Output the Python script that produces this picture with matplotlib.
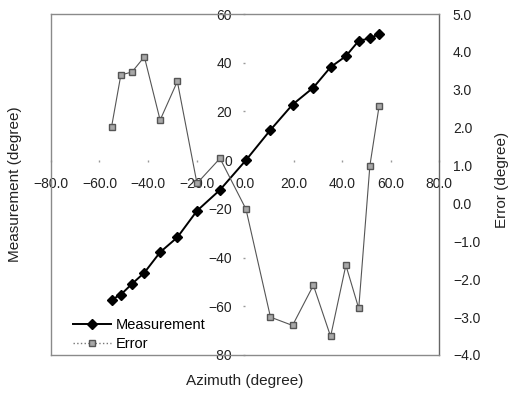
import matplotlib
matplotlib.use("Agg")
import matplotlib.pyplot as plt
from matplotlib.lines import Line2D

plt.rcParams['font.family'] = ['Liberation Sans', 'DejaVu Sans']

azimuth = [-55.0, -51.2, -46.6, -41.5, -35.0, -27.9, -19.8, -10.3, 0.4,
           10.5, 19.6, 28.2, 35.3, 41.6, 46.9, 51.5, 55.3]
measurement = [-57.3, -55.2, -50.8, -46.2, -37.8, -31.7, -20.8, -12.2, 0.0,
               12.4, 22.8, 29.8, 38.2, 42.7, 49.0, 50.0, 51.8]
error = [2.03, 3.39, 3.47, 3.87, 2.20, 3.22, 0.53, 1.19, -0.15,
         -3.00, -3.22, -2.16, -3.51, -1.63, -2.77, 1.00, 2.57]

x_ticks = [-80, -60, -40, -20, 0, 20, 40, 60, 80]
y_ticks = [-80, -60, -40, -20, 0, 20, 40, 60]
e_ticks = [-4, -3, -2, -1, 0, 1, 2, 3, 4, 5]

fig = plt.figure(figsize=(5.08, 3.93), dpi=100)
ax = fig.add_axes([51/508, 1 - 355/393, 388/508, 341/393])
ax2 = ax.twinx()

frame_color = '#8a8a8a'
# main axes: axes cross at zero
ax.set_xlim(-80, 80)
ax.set_ylim(-80, 60)
ax.spines['left'].set_position(('data', 0))
ax.spines['bottom'].set_position(('data', 0))
ax.spines['left'].set_color('none')
ax.spines['bottom'].set_color('none')
for s in ['top', 'right']:
    ax.spines[s].set_visible(False)

ax.set_xticks(x_ticks)
ax.set_xticklabels([f"{v:.1f}".replace('-', '\u2212') for v in x_ticks])
ax.set_yticks(y_ticks)
ax.set_yticklabels([f"{v:d}".replace('-', '\u2212') for v in y_ticks])
ax.tick_params(axis='x', length=1.5, width=1, color='#999999', pad=10.5,
               labelsize=10, labelcolor='#222222')
ax.tick_params(axis='y', length=1.5, width=1, color='#999999', pad=8,
               labelsize=10, labelcolor='#222222')

ax2.set_ylim(-4, 5)
ax2.set_yticks(e_ticks)
ax2.set_yticklabels([f"{v:.1f}".replace('-', '\u2212') for v in e_ticks])
ax2.tick_params(axis='y', length=0, pad=10, labelsize=10, labelcolor='#222222')
for s in ['top', 'bottom', 'left', 'right']:
    ax2.spines[s].set_color(frame_color)
    ax2.spines[s].set_linewidth(1.0)
ax2.spines['right'].set_color('#666666')

ax.plot(azimuth, measurement, color='black', linewidth=1.4, marker='D',
        markersize=5.5, markerfacecolor='black', markeredgecolor='black', zorder=3)
ax2.plot(azimuth, error, color='#555555', linewidth=0.8, marker='s',
         markersize=5, markerfacecolor='#a8a8a8', markeredgecolor='#555555', zorder=3)

fig.text(15/508, 1 - 184/393, 'Measurement (degree)', rotation=90,
         ha='center', va='center', fontsize=11, color='#222222')
fig.text(502/508, 1 - 180/393, 'Error (degree)', rotation=90,
         ha='center', va='center', fontsize=11, color='#222222')
fig.text(245/508, 1 - 381/393, 'Azimuth (degree)',
         ha='center', va='center', fontsize=11, color='#222222')

handles = [
    Line2D([0], [0], color='black', linewidth=1.4, marker='D', markersize=5.5),
    Line2D([0], [0], color='#777777', linewidth=1.0, linestyle=':', marker='s',
           markersize=5, markerfacecolor='#a8a8a8', markeredgecolor='#555555'),
]
ax2.legend(handles, ['Measurement', 'Error'], loc='lower left',
           bbox_to_anchor=(0.035, -0.014), frameon=False, fontsize=10.5,
           handlelength=2.6, handletextpad=0.3, labelspacing=0.35,
           borderaxespad=0.2)

fig.savefig('out.png', dpi=100)
